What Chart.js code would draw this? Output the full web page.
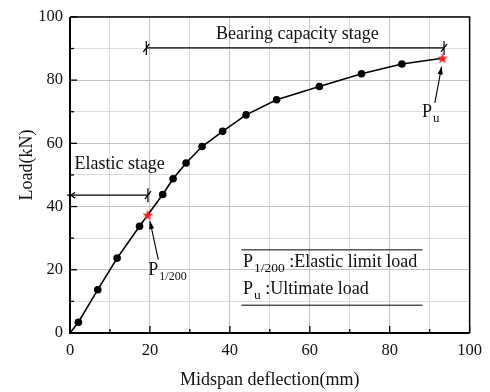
<!DOCTYPE html>
<html><head><meta charset="utf-8">
<script src="https://cdn.jsdelivr.net/npm/chart.js@4"></script>
<style>html,body{margin:0;padding:0;background:#fff}</style>
</head><body>
<canvas id="c" width="490" height="392" style="width:490px;height:392px;display:block"></canvas>
<script>
// ---- data ----
const deflection = [0, 2.1, 6.95, 11.8, 17.4, 19.45, 23.2, 25.8, 29.05, 33.05, 38.2, 44.05, 51.7, 62.4, 72.95, 83.05, 93.2];
const load       = [0, 3.4, 13.7, 23.7, 33.75, 37.3, 43.8, 48.8, 53.8, 59.0, 63.8, 69.0, 73.8, 78.0, 82.0, 85.1, 86.9];
const markerKind = ['none','dot','dot','dot','dot','star','dot','dot','dot','dot','dot','dot','dot','dot','dot','dot','star'];
const xTickLabels = [0, 20, 40, 60, 80, 100];
const yTickLabels = [0, 20, 40, 60, 80, 100];
const xTitle = 'Midspan deflection(mm)';
const yTitle = 'Load(kN)';
const stageLabels = ['Bearing capacity stage', 'Elastic stage'];
const legendRows = [['P', '1/200', ' :Elastic limit load'], ['P', 'u', ' :Ultimate load']];

const FONT = '"Liberation Serif", "Times New Roman", serif';

// red star marker image
const star = document.createElement('canvas');
star.width = 12; star.height = 12;
(function(){
  const g = star.getContext('2d');
  g.fillStyle = '#ff1a1a';
  g.beginPath();
  for (let i = 0; i < 10; i++) {
    const r = i % 2 === 0 ? 5.6 : 2.3;
    const a = -Math.PI / 2 + i * Math.PI / 5;
    const px = 6 + r * Math.cos(a), py = 6.4 + r * Math.sin(a);
    i === 0 ? g.moveTo(px, py) : g.lineTo(px, py);
  }
  g.closePath(); g.fill();
})();

const points = deflection.map((x, i) => ({x, y: load[i]}));

function arrow(ctx, x1, y1, x2, y2) {
  ctx.beginPath(); ctx.moveTo(x1, y1); ctx.lineTo(x2, y2); ctx.stroke();
  const a = Math.atan2(y2 - y1, x2 - x1), L = 8, W = 2.6;
  ctx.beginPath();
  ctx.moveTo(x2, y2);
  ctx.lineTo(x2 - L * Math.cos(a) + W * Math.sin(a), y2 - L * Math.sin(a) - W * Math.cos(a));
  ctx.lineTo(x2 - L * Math.cos(a) - W * Math.sin(a), y2 - L * Math.sin(a) + W * Math.cos(a));
  ctx.closePath(); ctx.fill();
}
function endMark(ctx, x, y) {
  ctx.beginPath();
  ctx.moveTo(x, y - 7); ctx.lineTo(x, y + 7);
  ctx.moveTo(x - 3, y + 4); ctx.lineTo(x + 3, y - 4);
  ctx.stroke();
}
function subText(ctx, x, y, parts, subSize) {
  ctx.textAlign = 'left'; ctx.textBaseline = 'middle';
  ctx.font = '18px ' + FONT; ctx.fillText(parts[0], x, y);
  x += ctx.measureText(parts[0]).width + 1;
  ctx.font = subSize + 'px ' + FONT; ctx.fillText(parts[1], x, y + 6);
  x += ctx.measureText(parts[1]).width;
  if (parts[2]) { ctx.font = '18px ' + FONT; ctx.fillText(parts[2], x, y); }
}

const deco = {
  id: 'deco',
  afterDraw(chart) {
    const ctx = chart.ctx, xs = chart.scales.x, ys = chart.scales.y, a = chart.chartArea;
    const X = v => xs.getPixelForValue(v), Y = v => ys.getPixelForValue(v);
    ctx.save();
    ctx.strokeStyle = '#000'; ctx.fillStyle = '#000';
    // inward ticks
    ctx.lineWidth = 1.3;
    for (let v = 0; v <= 100; v += 10) {
      const L = v % 20 === 0 ? 7 : 4;
      ctx.beginPath(); ctx.moveTo(X(v), a.bottom); ctx.lineTo(X(v), a.bottom - L); ctx.stroke();
      ctx.beginPath(); ctx.moveTo(a.left, Y(v)); ctx.lineTo(a.left + L, Y(v)); ctx.stroke();
    }
    // frame
    ctx.lineWidth = 1.5;
    ctx.beginPath(); ctx.moveTo(a.left, a.top); ctx.lineTo(a.right, a.top); ctx.lineTo(a.right, a.bottom); ctx.stroke();
    ctx.lineWidth = 2;
    ctx.beginPath(); ctx.moveTo(a.left, a.top); ctx.lineTo(a.left, a.bottom); ctx.lineTo(a.right, a.bottom); ctx.stroke();

    // axis titles
    ctx.fillStyle = '#111';
    ctx.font = '18px ' + FONT; ctx.textAlign = 'center'; ctx.textBaseline = 'middle';
    ctx.fillText(xTitle, X(50), 380);
    ctx.save(); ctx.translate(27, 165); ctx.rotate(-Math.PI / 2); ctx.fillText(yTitle, 0, 0); ctx.restore();

    // bearing capacity stage
    ctx.lineWidth = 1.2; ctx.strokeStyle = '#000'; ctx.fillStyle = '#000';
    const yb = Y(90.2);
    ctx.beginPath(); ctx.moveTo(X(19.1), yb); ctx.lineTo(X(93.6), yb); ctx.stroke();
    endMark(ctx, X(19.1), yb); endMark(ctx, X(93.6), yb);
    ctx.fillStyle = '#111'; ctx.font = '18px ' + FONT; ctx.textAlign = 'center'; ctx.textBaseline = 'middle';
    ctx.fillText(stageLabels[0], X(56.9), Y(94.6));

    // elastic stage
    ctx.fillStyle = '#000';
    const ye = Y(43.6);
    ctx.beginPath(); ctx.moveTo(X(0) - 3, ye); ctx.lineTo(X(19.5), ye); ctx.stroke();
    ctx.beginPath(); ctx.moveTo(X(0) + 5, ye - 3); ctx.lineTo(X(0) + 1, ye); ctx.lineTo(X(0) + 5, ye + 3); ctx.stroke();
    endMark(ctx, X(19.5), ye);
    ctx.fillStyle = '#111'; ctx.textAlign = 'left';
    ctx.fillText(stageLabels[1], X(1.1), Y(53.3));

    // P1/200 and Pu callouts
    ctx.fillStyle = '#000'; ctx.lineWidth = 1.1;
    arrow(ctx, X(22.1), Y(23.2), X(20.0), Y(35.4));
    arrow(ctx, X(91.3), Y(72.8), X(93.0), Y(84.3));
    ctx.fillStyle = '#111';
    subText(ctx, X(19.6), Y(19.8), ['P', '1/200'], 12);
    subText(ctx, X(88.1), Y(69.8), ['P', 'u'], 13);

    // legend box
    ctx.strokeStyle = '#000'; ctx.lineWidth = 1;
    [26.3, 8.8].forEach(v => { ctx.beginPath(); ctx.moveTo(X(42.9), Y(v)); ctx.lineTo(X(88.2), Y(v)); ctx.stroke(); });
    subText(ctx, X(43.3), Y(22.3), legendRows[0], 13.5);
    subText(ctx, X(43.3), Y(13.8), legendRows[1], 13.5);
    ctx.restore();
  }
};

new Chart(document.getElementById('c'), {
  type: 'scatter',
  data: { datasets: [{
    data: points,
    showLine: true,
    borderColor: '#000',
    borderWidth: 1.6,
    backgroundColor: '#000',
    pointBackgroundColor: '#000',
    pointBorderWidth: 0,
    pointRadius: ctx => markerKind[ctx.dataIndex] === 'dot' ? 3.8 : (markerKind[ctx.dataIndex] === 'star' ? 6 : 0),
    pointStyle: ctx => markerKind[ctx.dataIndex] === 'star' ? star : 'circle',
    tension: 0
  }]},
  options: {
    responsive: false, animation: false, devicePixelRatio: 1,
    layout: { padding: { top: 13, right: 20, left: 0, bottom: 0 } },
    plugins: { legend: { display: false }, tooltip: { enabled: false } },
    scales: {
      x: {
        type: 'linear', min: 0, max: 100,
        afterFit: s => { s.height = 59; },
        afterBuildTicks: s => { s.ticks = []; for (let v = 0; v <= 100; v += 10) s.ticks.push({value: v}); },
        ticks: { padding: 8, color: '#111', font: { family: FONT, size: 16.5 }, maxRotation: 0, autoSkip: false,
                 callback: v => xTickLabels.includes(v) ? String(v) : '' },
        grid: { drawTicks: false, color: c => c.tick && c.tick.value % 20 === 0 ? '#c4c4c4' : '#dcdcdc', borderDash: [2, 2], lineWidth: 1 },
        border: { display: false }
      },
      y: {
        type: 'linear', min: 0, max: 100,
        afterFit: s => { s.width = 70; },
        afterBuildTicks: s => { s.ticks = []; for (let v = 0; v <= 100; v += 10) s.ticks.push({value: v}); },
        ticks: { padding: 7, color: '#111', font: { family: FONT, size: 16.5 }, autoSkip: false,
                 callback: v => yTickLabels.includes(v) ? String(v) : '' },
        grid: { drawTicks: false, color: c => c.tick && c.tick.value % 20 === 0 ? '#c4c4c4' : '#dcdcdc', borderDash: [2, 2], lineWidth: 1 },
        border: { display: false }
      }
    }
  },
  plugins: [deco]
});
</script>
</body></html>
